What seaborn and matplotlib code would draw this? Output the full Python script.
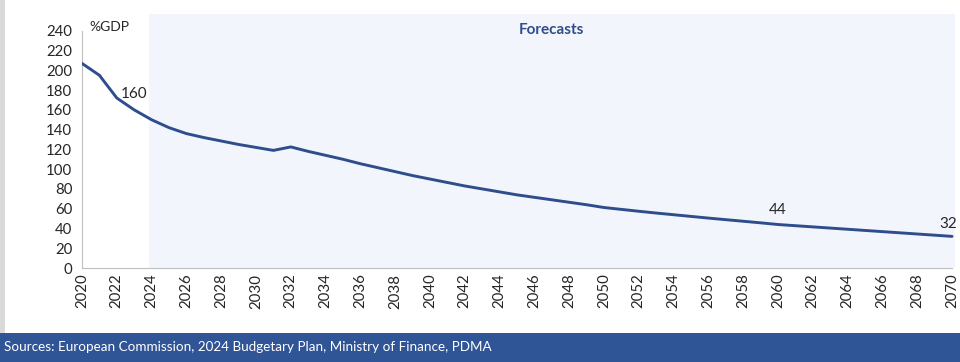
import matplotlib
matplotlib.use("Agg")
import matplotlib.pyplot as plt
import seaborn as sns
import pandas as pd
from matplotlib.patches import Rectangle

years = list(range(2020, 2071))
debt = [207, 195, 172, 160, 150, 142, 136, 132, 128.5, 125, 122, 119, 122.5,
        118, 114, 110, 105.5, 101.5, 97.5, 93.5, 90, 86.5, 83, 80, 77, 74,
        71.5, 69, 66.5, 64, 61.2, 59.3, 57.4, 55.6, 53.9, 52.2, 50.5, 48.9,
        47.3, 45.7, 44, 42.8, 41.6, 40.4, 39.2, 38, 36.8, 35.6, 34.4, 33.2, 32]
labels = {2023: "160", 2060: "44", 2070: "32"}
xticks = list(range(2020, 2071, 2))
yticks = list(range(0, 241, 20))
forecast_start = 2023.85
source_text = "Sources: European Commission, 2024 Budgetary Plan, Ministry of Finance, PDMA"

df = pd.DataFrame({"year": years, "debt": debt})

sns.set_style("white")
plt.rcParams["font.family"] = ["Lato", "DejaVu Sans"]

W, H = 960, 362
fig = plt.figure(figsize=(W / 100, H / 100), dpi=100)
fig.patch.set_facecolor("white")

# left gray strip and bottom source bar
fig.patches.append(Rectangle((0, 1 - 333 / H), 5 / W, 333 / H, transform=fig.transFigure,
                             facecolor="#d9d9d9", edgecolor="none", zorder=0))
fig.patches.append(Rectangle((0, 0), 1, 29 / H, transform=fig.transFigure,
                             facecolor="#2f5597", edgecolor="none", zorder=0))
fig.text(4 / W, 15 / H, source_text, color="white", fontsize=9.7, va="center", ha="left")

left, right = 82 / W, 955 / W
bottom, top = 1 - 268 / H, 1 - 14 / H
ax = fig.add_axes([left, bottom, right - left, top - bottom])
ax.set_facecolor("none")

ax.axvspan(forecast_start, 2070.17, ymin=0, ymax=1, color="#f3f5fc", zorder=0, lw=0)

sns.lineplot(data=df, x="year", y="debt", ax=ax, color="#2e4d8c", linewidth=2.1, zorder=3)

ax.set_xlim(2020, 2070.17)
ax.set_ylim(0, 257)
ax.set_xticks(xticks)
ax.set_xticklabels([str(x) for x in xticks], rotation=90, fontsize=10.8)
ax.set_yticks(yticks)
ax.set_yticklabels([str(y) for y in yticks], fontsize=10.8)
ax.set_xlabel("")
ax.set_ylabel("")

for s in ["top", "right"]:
    ax.spines[s].set_visible(False)
ax.spines["left"].set_bounds(0, 240)
ax.spines["left"].set_color("#bfbfbf")
ax.spines["bottom"].set_color("#bfbfbf")
ax.spines["bottom"].set_bounds(2020, 2070)
ax.tick_params(axis="y", length=4, color="#bfbfbf", pad=3)
ax.tick_params(axis="x", length=0, pad=4)
ax.set_clip_on(False)

ax.text(2020.4, 244, "%GDP", fontsize=10, ha="left", va="center")
ax.text(2047.0, 241, "Forecasts", fontsize=11, fontweight="bold", color="#2e4d8c",
        ha="center", va="center")

ax.text(2023.0, 176, labels[2023], fontsize=11, ha="center", va="center")
ax.text(2060, 59, labels[2060], fontsize=11, ha="center", va="center")
ax.text(2069.8, 45, labels[2070], fontsize=11, ha="center", va="center")

fig.savefig("out.png", dpi=100)
